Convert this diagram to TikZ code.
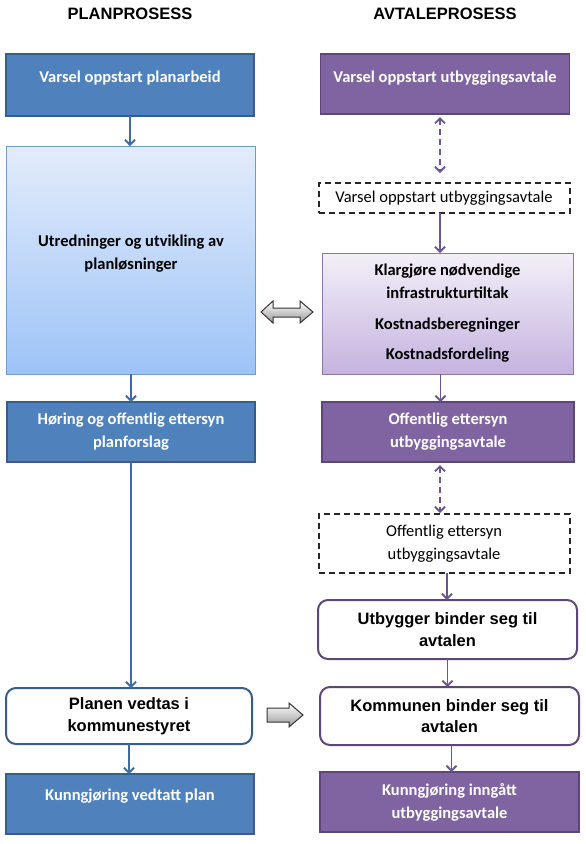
\documentclass[tikz,border=0pt]{standalone}
\usepackage{fontspec}
\setmainfont{Carlito}
\newfontfamily\arialfont{Liberation Sans}
\usetikzlibrary{arrows.meta}
\definecolor{planfill}{HTML}{4F81BD}
\definecolor{planline}{HTML}{385D8A}
\definecolor{planarrow}{HTML}{3E6CA8}
\definecolor{avtfill}{HTML}{8064A2}
\definecolor{avtline}{HTML}{5C4776}
\definecolor{avtarrow}{HTML}{6A5790}
\tikzset{>={Straight Barb[length=5pt,width=10pt]}}
\tikzset{
	box/.style={rectangle, inner sep=0pt, outer sep=0pt, align=center, line width=1.8pt, font=\fontsize{16.5}{23}\selectfont\bfseries},
	planbox/.style={box, draw=planline, fill=planfill, text=white, minimum width=248pt},
	avtbox/.style={box, draw=avtline, fill=avtfill, text=white, minimum width=257pt},
	planshade/.style={box, draw=planfill!80!white, line width=1pt, top color={rgb,255:red,227;green,236;blue,251}, bottom color={rgb,255:red,157;green,195;blue,247}, minimum width=249pt},
	avtshade/.style={box, draw=avtfill!90!white, line width=1pt, top color={rgb,255:red,243;green,239;blue,248}, bottom color={rgb,255:red,197;green,179;blue,223}, minimum width=251pt},
	dashbox/.style={box, draw=black!85, line width=2pt, dash pattern=on 6pt off 4pt, fill=white, font=\fontsize{16.5}{23}\selectfont, minimum width=251pt},
	roundbox/.style={box, fill=white, line width=2pt, rounded corners=10pt, font=\arialfont\fontsize{16.5}{21.5}\selectfont\bfseries},
	head/.style={font=\arialfont\fontsize{16.5}{20}\selectfont\bfseries},
	planarr/.style={->, draw=planarrow, line width=1.8pt},
	avtarr/.style={->, draw=avtarrow, line width=1.8pt},
	avtdash/.style={<->, draw=avtarrow, line width=1.8pt, dash pattern=on 6pt off 4pt},
	blockarrow/.style={draw=black!80, line width=1pt, top color=white, bottom color=black!40, line join=miter}
}
\begin{document}
\begin{tikzpicture}[x=1pt, y=-1pt]
	\useasboundingbox (0,0) rectangle (586,844);
	\node (planhead) at (130,14) [head] {PLANPROSESS};
	\node (avthead) at (445,14) [head] {AVTALEPROSESS};

	\node (plan1) at (130,85) [planbox, minimum height=62pt, text depth=17pt] {Varsel oppstart planarbeid};
	\node (plan2) at (131,260) [planshade, minimum height=228pt, text=black] {Utredninger og utvikling av\\planløsninger\\[-8pt]\mbox{}};
	\node (plan3) at (131,432) [planbox, minimum height=60pt] {Høring og offentlig ettersyn\\planforslag};
	\node (plan4) at (129,716) [roundbox, draw=planline, minimum width=246pt, minimum height=56pt] {Planen vedtas i\\kommunestyret};
	\node (plan5) at (130,804) [planbox, minimum height=60pt, text depth=19pt] {Kunngjøring vedtatt plan};

	\node (avt1) at (445,84) [avtbox, minimum width=249pt, minimum height=60pt, text depth=15pt] {Varsel oppstart utbyggingsavtale};
	\node (avt2) at (444,198) [dashbox, minimum height=30pt] {Varsel oppstart utbyggingsavtale};
	\node (avt3) at (447.5,313.5) [avtshade, minimum height=121pt] {Klargjøre nødvendige\\infrastrukturtiltak\\[8pt]Kostnadsberegninger\\[7pt]Kostnadsfordeling};
	\node (avt4) at (448,432) [avtbox, minimum width=252pt, minimum height=60pt] {Offentlig ettersyn\\utbyggingsavtale};
	\node (avt5) at (444,543.5) [dashbox, minimum height=59pt] {Offentlig ettersyn\\utbyggingsavtale};
	\node (avt6) at (447.5,629.5) [roundbox, draw=avtline, minimum width=259pt, minimum height=59pt] {Utbygger binder seg til\\avtalen};
	\node (avt7) at (449.5,716) [roundbox, draw=avtline, minimum width=259pt, minimum height=58pt] {Kommunen binder seg til\\avtalen};
	\node (avt8) at (449.5,802) [avtbox, minimum width=259pt, minimum height=60pt] {Kunngjøring inngått\\utbyggingsavtale};

	\draw [planarr] (plan1.south) -- (plan1.south |- plan2.north);
	\draw [planarr] (plan2.south) -- (plan2.south |- plan3.north);
	\draw [planarr] (plan3.south) -- (plan3.south |- plan4.north);
	\draw [planarr] (plan4.south) -- (plan4.south |- plan5.north);

	\draw [avtdash, shorten <=3pt, shorten >=10pt] ([xshift=-5pt]avt1.south) -- ([xshift=-5pt]avt1.south |- avt2.north);
	\draw [avtarr] ([xshift=-4pt]avt2.south) -- ([xshift=-4pt]avt2.south |- avt3.north);
	\draw [avtarr] ([xshift=-7pt]avt3.south) -- ([xshift=-7pt]avt3.south |- avt4.north);
	\draw [avtdash, shorten <=3pt, shorten >=1pt] ([xshift=-8pt]avt4.south) -- ([xshift=-8pt]avt4.south |- avt5.north);
	\draw [avtarr] ([xshift=3pt]avt5.south) -- ([xshift=3pt]avt5.south |- avt6.north);
	\draw [avtarr] (avt6.south) -- (avt6.south |- avt7.north);
	\draw [avtarr] ([xshift=2pt]avt7.south) -- ([xshift=2pt]avt7.south |- avt8.north);

	\draw [blockarrow] (261,312) -- (273,301) -- (273,308) -- (300,308) -- (300,301) -- (313,312) -- (300,323) -- (300,317) -- (273,317) -- (273,323) -- cycle;
	\draw [blockarrow] (267,708) -- (289,708) -- (289,703) -- (303,715) -- (289,727) -- (289,722) -- (267,722) -- cycle;
\end{tikzpicture}
\end{document}
